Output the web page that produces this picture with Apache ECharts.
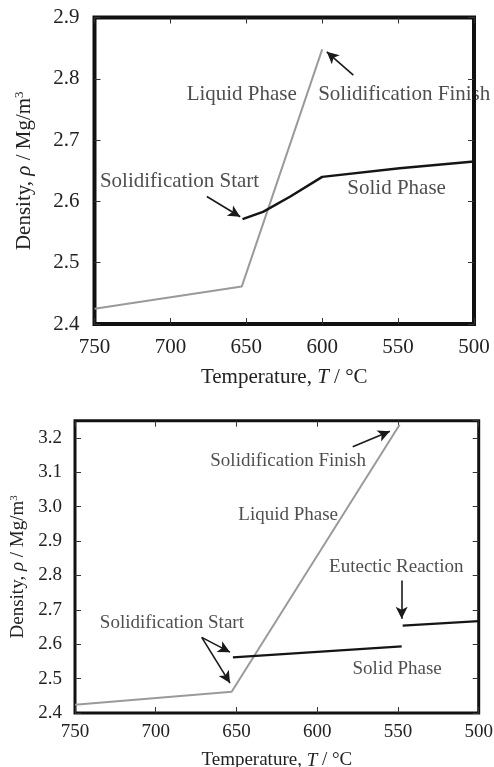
<!DOCTYPE html>
<html>
<head>
<meta charset="utf-8">
<script src="https://cdn.jsdelivr.net/npm/echarts@6/dist/echarts.min.js"></script>
<style>
html,body{margin:0;padding:0;background:#fff;}
#c{width:494px;height:767px;}
</style>
</head>
<body>
<div id="c"></div>
<script>
// ---------- Data (top chart) ----------
var topLiquidT   = [750, 653, 600];
var topLiquidRho = [2.425, 2.461, 2.848];
var topSolidT    = [652.5, 639, 621, 600, 549, 500];
var topSolidRho  = [2.571, 2.583, 2.608, 2.640, 2.654, 2.665];
var topLabelText = ['Liquid Phase', 'Solidification Finish', 'Solidification Start', 'Solid Phase'];
var topLabelT    = [653, 546, 694, 551];
var topLabelRho  = [2.774, 2.774, 2.632, 2.621];
var topArrowFromT   = [579.5, 676];
var topArrowFromRho = [2.806, 2.608];
var topArrowToT     = [597, 654];
var topArrowToRho   = [2.844, 2.575];

// ---------- Data (bottom chart) ----------
var botLiquidT   = [750, 653, 549];
var botLiquidRho = [2.424, 2.462, 3.238];
var botSolidT    = [652.2, 547.7];
var botSolidRho  = [2.562, 2.594];
var botEutT      = [547.1, 500];
var botEutRho    = [2.654, 2.667];
var botLabelText = ['Solidification Finish', 'Liquid Phase', 'Eutectic Reaction', 'Solidification Start', 'Solid Phase'];
var botLabelT    = [618, 618, 551, 690, 550.5];
var botLabelRho  = [3.133, 2.977, 2.824, 2.661, 2.528];
var botArrowFromT   = [578, 547.7, 671.5, 671.5];
var botArrowFromRho = [3.174, 2.785, 2.620, 2.620];
var botArrowToT     = [555, 547.7, 654, 654];
var botArrowToRho   = [3.219, 2.674, 2.577, 2.487];

// ---------- Axis ticks ----------
var tempMin = 500, tempMax = 750, tempStep = 50;
var topRhoMin = 2.4, topRhoMax = 2.9;
var botRhoMin = 2.4, botRhoMax = 3.25;
var rhoStep = 0.1;

function pairs(a, b) { return a.map(function (v, i) { return [v, b[i]]; }); }
function labels(t, r, s) { return t.map(function (v, i) { return [v, r[i], s[i]]; }); }
function arrows(ft, fr, tt, tr) {
  return ft.map(function (v, i) { return [{ coord: [v, fr[i]] }, { coord: [tt[i], tr[i]] }]; });
}

var FONT = 'Liberation Serif';
var TXT = '#222';

function xAxes(gi, fs, margin, gap) {
  var common = {
    type: 'value', gridIndex: gi, min: tempMin, max: tempMax, interval: tempStep, inverse: true,
    splitLine: { show: false }, axisLine: { show: false },
    axisTick: { show: true, inside: true, length: 6, lineStyle: { color: '#333', width: 1 } }
  };
  return [
    Object.assign({}, common, {
      position: 'bottom',
      axisLabel: { show: true, margin: margin, fontFamily: FONT, fontSize: fs, color: TXT },
      name: '{a|Temperature, }{i|T}{a| / °C}', nameLocation: 'middle', nameGap: gap,
      nameTextStyle: {
        fontFamily: FONT, fontSize: fs, color: TXT,
        rich: {
          a: { fontFamily: FONT, fontSize: fs, color: TXT },
          i: { fontFamily: FONT, fontSize: fs, color: TXT, fontStyle: 'italic' }
        }
      }
    }),
    Object.assign({}, common, { position: 'top', axisLabel: { show: false } })
  ];
}

function yAxes(gi, mn, mx, fs, margin, gap, hideMax) {
  var common = {
    type: 'value', gridIndex: gi, min: mn, max: mx, interval: rhoStep,
    splitLine: { show: false }, axisLine: { show: false },
    axisTick: { show: true, inside: true, length: 6, lineStyle: { color: '#333', width: 1 } }
  };
  return [
    Object.assign({}, common, {
      position: 'left',
      axisLabel: {
        show: true, margin: margin, fontFamily: FONT, fontSize: fs, color: TXT,
        showMaxLabel: !hideMax,
        formatter: function (v) { return v.toFixed(1); }
      },
      name: '{a|Density, }{i|ρ}{a| / Mg/m}{s|3}', nameLocation: 'middle', nameGap: gap,
      nameTextStyle: {
        fontFamily: FONT, fontSize: fs, color: TXT,
        rich: {
          a: { fontFamily: FONT, fontSize: fs, color: TXT },
          i: { fontFamily: FONT, fontSize: fs, color: TXT, fontStyle: 'italic' },
          s: { fontFamily: FONT, fontSize: Math.round(fs * 0.6), color: TXT, verticalAlign: 'top', padding: [0, 0, 8, 0] }
        }
      }
    }),
    Object.assign({}, common, { position: 'right', axisLabel: { show: false } })
  ];
}

function lineSeries(xi, yi, data, color, width) {
  return {
    type: 'line', xAxisIndex: xi, yAxisIndex: yi, data: data, showSymbol: false, symbol: 'none',
    lineStyle: { color: color, width: width }, silent: true, z: 3
  };
}

function annoSeries(xi, yi, lab, arr, fs) {
  return {
    type: 'scatter', xAxisIndex: xi, yAxisIndex: yi, data: lab, symbolSize: 0, silent: true, z: 5,
    clip: false,
    label: {
      show: true, position: 'inside', formatter: function (p) { return p.data[2]; },
      fontFamily: FONT, fontSize: fs, color: TXT, align: 'center', verticalAlign: 'middle'
    },
    markLine: {
      silent: true, symbol: ['none', 'arrow'], symbolSize: [9, 12],
      lineStyle: { color: '#1a1a1a', width: 1.6, type: 'solid' },
      label: { show: false }, emphasis: { disabled: true },
      data: arr
    }
  };
}

var chart = echarts.init(document.getElementById('c'), null, { renderer: 'canvas' });
var xs = xAxes(0, 21, 13, 43).concat(xAxes(1, 19, 10, 38));
var ys = yAxes(0, topRhoMin, topRhoMax, 21, 15, 60, false).concat(yAxes(1, botRhoMin, botRhoMax, 19, 13, 40, true));

chart.setOption({
  animation: false,
  backgroundColor: '#fff',
  grid: [
    { left: 94.5, top: 17.5, width: 379.5, height: 306.5, show: true, borderColor: '#111', borderWidth: 4, backgroundColor: 'transparent', containLabel: false, outerBoundsMode: 'none' },
    { left: 75, top: 420.7, width: 403.7, height: 292.3, show: true, borderColor: '#111', borderWidth: 3, backgroundColor: 'transparent', containLabel: false, outerBoundsMode: 'none' }
  ],
  xAxis: xs,
  yAxis: ys,
  series: [
    lineSeries(0, 0, pairs(topLiquidT, topLiquidRho), '#9a9a9a', 2),
    lineSeries(0, 0, pairs(topSolidT, topSolidRho), '#151515', 2.5),
    annoSeries(0, 0, labels(topLabelT, topLabelRho, topLabelText),
      arrows(topArrowFromT, topArrowFromRho, topArrowToT, topArrowToRho), 21),
    lineSeries(2, 2, pairs(botLiquidT, botLiquidRho), '#9a9a9a', 2),
    lineSeries(2, 2, pairs(botSolidT, botSolidRho), '#151515', 2.2),
    lineSeries(2, 2, pairs(botEutT, botEutRho), '#151515', 2.2),
    annoSeries(2, 2, labels(botLabelT, botLabelRho, botLabelText),
      arrows(botArrowFromT, botArrowFromRho, botArrowToT, botArrowToRho), 19)
  ]
});
</script>
</body>
</html>
